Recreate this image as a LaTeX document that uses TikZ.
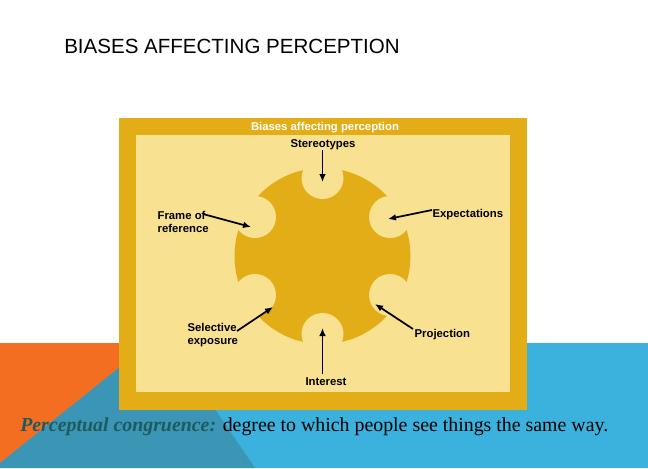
\documentclass[tikz,border=0pt]{standalone}
\usepackage{fontspec}
\usetikzlibrary{arrows.meta}
\setmainfont{Liberation Serif}
\setsansfont{Liberation Sans}
\begin{document}
\begin{tikzpicture}[x=0.75pt,y=-0.75pt,
  lbl/.style={font=\sffamily\bfseries\fontsize{8.5}{10}\selectfont,inner sep=1pt,align=left},
  arr/.style={-{Latex[length=6pt,width=5pt]},line width=1.3pt,black}]
\definecolor{gold}{HTML}{E3AD18}
\definecolor{pale}{HTML}{F9E192}
\definecolor{skyb}{HTML}{3BB1DD}
\definecolor{orng}{HTML}{F36E21}
\definecolor{teal}{HTML}{3A96B4}
\definecolor{dteal}{HTML}{1E5A5E}
\useasboundingbox (0,0) rectangle (648,468);
\fill[white] (0,0) rectangle (648,468);
\fill[skyb] (0,343) rectangle (648,468);
\fill[orng] (0,343) -- (150,343) -- (0,463) -- cycle;
\fill[teal] (0,468) -- (0,463) -- (150,343) -- (170,343) -- (255,468) -- cycle;
\node[anchor=west,font=\sffamily\fontsize{15.4}{18}\selectfont,inner sep=0] (title) at (64,46) {BIASES AFFECTING PERCEPTION};
\fill[gold] (119,118) rectangle (527,410);
\fill[pale] (136,135) rectangle (510,392);
\node[font=\sffamily\bfseries\fontsize{8.5}{10}\selectfont,text=white,inner sep=0] (head) at (325,128) {Biases affecting perception};
\fill[gold] (322.5,256) circle[radius=88];
\foreach \a in {90,30,-30,-90,-150,150}
  \fill[pale] (322.5,256) ++(\a:-78) circle[radius=21];
\coordinate (cS) at (322.5,182);
\coordinate (cE) at (388,219);
\coordinate (cF) at (251,227);
\coordinate (cX) at (273,307);
\coordinate (cP) at (375,304);
\coordinate (cI) at (322.5,328);
\node[lbl] (st) at (323,145) {Stereotypes};
\node[lbl,anchor=west] (fr) at (156,222) {Frame of\\reference};
\node[lbl,anchor=west] (ex) at (431,215) {Expectations};
\node[lbl,anchor=west] (se) at (186,335) {Selective\\exposure};
\node[lbl,anchor=west] (pr) at (413,335) {Projection};
\node[lbl] (in) at (326,382) {Interest};
\draw[arr] (322.5,150) -- (cS);
\draw[arr] (203,214) -- (cF);
\draw[arr] (432,210) -- (cE);
\draw[arr] (237,331) -- (cX);
\draw[arr] (413,329) -- (cP);
\draw[arr] (322.5,374) -- (cI);
\node[anchor=west,inner sep=0,font=\fontsize{14.9}{17}\selectfont] (def) at (20,427) {\textcolor{dteal}{\textbf{\textit{Perceptual congruence:}}} degree to which people see things the same way.};
\end{tikzpicture}
\end{document}
